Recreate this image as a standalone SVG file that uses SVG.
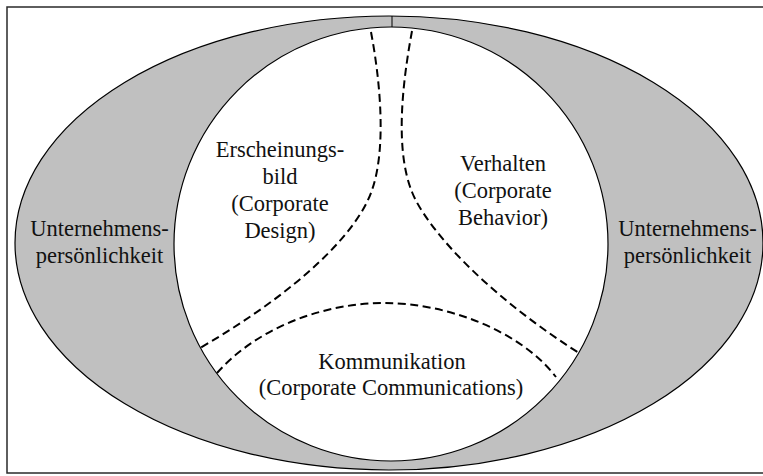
<svg xmlns="http://www.w3.org/2000/svg" width="763" height="476" viewBox="0 0 763 476">
  <style>
    .frame { fill: #ffffff; stroke: #2a2a2a; stroke-width: 1.5; }
    .outer { fill: #c0c0c0; stroke: #000000; stroke-width: 1.2; }
    .inner { fill: #ffffff; stroke: #000000; stroke-width: 1.2; }
    .divider { fill: none; stroke: #000000; stroke-width: 2; stroke-dasharray: 8 4.5; }
  </style>

  <!-- outer frame -->
  <rect class="frame" x="7" y="7" width="800" height="466"/>

  <!-- personality ring: grey ellipse with the white identity circle inside -->
  <g id="personality">
    <ellipse class="outer" cx="389" cy="243" rx="374" ry="227"/>
    <circle class="inner" cx="391" cy="244" r="217"/>
    <line x1="392" y1="16" x2="392" y2="27" stroke="#000" stroke-width="1"/>
  </g>

  <!-- dashed boundaries between the three identity areas -->
  <g id="connectors">
    <path class="divider" d="M371,32 C381,85 386,150 372,190 C358,232 300,290 200,348"/>
    <path class="divider" d="M412,31 C402,85 395,150 412,192 C425,225 480,290 579,353"/>
    <path class="divider" d="M217,373 C255,330 320,303 385,303 C445,303 520,330 556,377"/>
  </g>

  <g id="personality-left">
    <text x="99.5" y="236" font-size="22.5" font-family="Liberation Serif" text-anchor="middle" fill="#111">Unternehmens-</text>
    <text x="99.5" y="263" font-size="22.5" font-family="Liberation Serif" text-anchor="middle" fill="#111">persönlichkeit</text>
  </g>

  <g id="personality-right">
    <text x="687.5" y="236" font-size="22.5" font-family="Liberation Serif" text-anchor="middle" fill="#111">Unternehmens-</text>
    <text x="687.5" y="263" font-size="22.5" font-family="Liberation Serif" text-anchor="middle" fill="#111">persönlichkeit</text>
  </g>

  <g id="design">
    <text x="280" y="157" font-size="22.5" font-family="Liberation Serif" text-anchor="middle" fill="#111">Erscheinungs-</text>
    <text x="280" y="184" font-size="22.5" font-family="Liberation Serif" text-anchor="middle" fill="#111">bild</text>
    <text x="280" y="211" font-size="22.5" font-family="Liberation Serif" text-anchor="middle" fill="#111">(Corporate</text>
    <text x="280" y="238" font-size="22.5" font-family="Liberation Serif" text-anchor="middle" fill="#111">Design)</text>
  </g>

  <g id="behavior">
    <text x="503" y="171" font-size="22.5" font-family="Liberation Serif" text-anchor="middle" fill="#111">Verhalten</text>
    <text x="503" y="198" font-size="22.5" font-family="Liberation Serif" text-anchor="middle" fill="#111">(Corporate</text>
    <text x="503" y="225" font-size="22.5" font-family="Liberation Serif" text-anchor="middle" fill="#111">Behavior)</text>
  </g>

  <g id="communications">
    <text x="392" y="369" font-size="22.5" font-family="Liberation Serif" text-anchor="middle" fill="#111">Kommunikation</text>
    <text x="391" y="395" font-size="22.5" font-family="Liberation Serif" text-anchor="middle" fill="#111">(Corporate Communications)</text>
  </g>
</svg>
